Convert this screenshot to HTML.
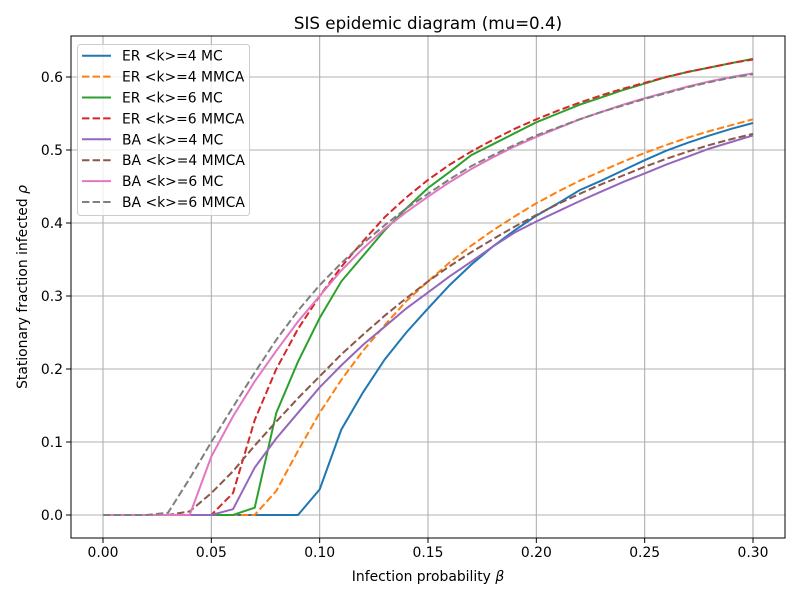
<!DOCTYPE html>
<html><head><meta charset="utf-8"><style>
body{margin:0;background:#fff}
svg text{font-family:"DejaVu Sans","Liberation Sans",sans-serif;fill:#000}
</style></head><body>
<svg id="chart" width="800" height="600" xmlns="http://www.w3.org/2000/svg">
<rect width="800" height="600" fill="#fff"/>
<g id="grid"></g>
<g id="series"></g>
<rect x="71" y="36" width="714" height="502" fill="none" stroke="#000" stroke-width="1"/>
<g id="ticks"></g>
<text x="428" y="29" font-size="16.7" text-anchor="middle">SIS epidemic diagram (mu=0.4)</text>
<text x="428" y="581" font-size="13.9" text-anchor="middle">Infection probability <tspan font-style="italic">β</tspan></text>
<text transform="translate(27,287) rotate(-90)" font-size="13.9" text-anchor="middle">Stationary fraction infected <tspan font-style="italic">ρ</tspan></text>
<g id="legend"></g>
</svg>
<script>
const betas=[0,0.01,0.02,0.03,0.04,0.05,0.06,0.07,0.08,0.09,0.10,0.11,0.12,0.13,0.14,0.15,0.16,0.17,0.18,0.19,0.20,0.21,0.22,0.23,0.24,0.25,0.26,0.27,0.28,0.29,0.30];
const er4mc=[0,0,0,0,0,0,0,0,0,0,0.035,0.117,0.168,0.213,0.25,0.283,0.315,0.343,0.368,0.39,0.41,0.427,0.445,0.458,0.472,0.486,0.499,0.51,0.52,0.529,0.537];
const er4mmca=[0,0,0,0,0,0,0,0,0.033,0.088,0.14,0.185,0.225,0.26,0.293,0.32,0.346,0.369,0.39,0.409,0.427,0.443,0.458,0.471,0.484,0.496,0.507,0.517,0.526,0.534,0.542];
const er6mc=[0,0,0,0,0,0,0,0.01,0.14,0.21,0.27,0.32,0.355,0.39,0.42,0.448,0.47,0.493,0.508,0.523,0.538,0.55,0.562,0.572,0.582,0.591,0.6,0.607,0.613,0.619,0.625];
const er6mmca=[0,0,0,0,0,0,0.03,0.13,0.2,0.255,0.3,0.34,0.375,0.408,0.435,0.459,0.48,0.498,0.514,0.529,0.542,0.554,0.565,0.575,0.584,0.592,0.6,0.607,0.613,0.619,0.624];
const ba4mc=[0,0,0,0,0,0,0.008,0.065,0.105,0.14,0.175,0.205,0.233,0.258,0.283,0.305,0.327,0.347,0.368,0.387,0.402,0.416,0.43,0.443,0.456,0.468,0.48,0.491,0.502,0.511,0.52];
const ba4mmca=[0,0,0,0,0.005,0.03,0.06,0.095,0.128,0.16,0.19,0.22,0.247,0.273,0.297,0.32,0.341,0.36,0.378,0.395,0.411,0.426,0.44,0.453,0.465,0.477,0.488,0.498,0.507,0.515,0.522];
const ba6mc=[0,0,0,0,0,0.08,0.135,0.183,0.225,0.265,0.3,0.335,0.365,0.392,0.415,0.436,0.456,0.474,0.49,0.505,0.518,0.53,0.542,0.552,0.562,0.571,0.579,0.587,0.594,0.6,0.605];
const ba6mmca=[0,0,0,0.003,0.05,0.1,0.148,0.195,0.24,0.28,0.315,0.345,0.372,0.397,0.42,0.44,0.46,0.478,0.493,0.507,0.52,0.531,0.542,0.552,0.561,0.57,0.578,0.586,0.593,0.599,0.604];
const xTicks=[0,0.05,0.10,0.15,0.20,0.25,0.30];
const xTickLabels=["0.00","0.05","0.10","0.15","0.20","0.25","0.30"];
const yTicks=[0,0.1,0.2,0.3,0.4,0.5,0.6];
const yTickLabels=["0.0","0.1","0.2","0.3","0.4","0.5","0.6"];
const seriesNames=["ER <k>=4 MC","ER <k>=4 MMCA","ER <k>=6 MC","ER <k>=6 MMCA","BA <k>=4 MC","BA <k>=4 MMCA","BA <k>=6 MC","BA <k>=6 MMCA"];
const seriesData=[er4mc,er4mmca,er6mc,er6mmca,ba4mc,ba4mmca,ba6mc,ba6mmca];
const colors=["#1f77b4","#ff7f0e","#2ca02c","#d62728","#9467bd","#8c564b","#e377c2","#7f7f7f"];
const dashed=[false,true,false,true,false,true,false,true];
const NS="http://www.w3.org/2000/svg";
const X=v=>103+v*(650/0.30);
const Y=v=>515-v*(438/0.6);
function mk(t,a,p){const e=document.createElementNS(NS,t);for(const k in a)e.setAttribute(k,a[k]);p.appendChild(e);return e;}
const grid=document.getElementById('grid'),ticks=document.getElementById('ticks'),ser=document.getElementById('series'),leg=document.getElementById('legend');
xTicks.forEach((v,i)=>{
 const g=mk('line',{x1:X(v),x2:X(v),y1:36,y2:538,stroke:'#b0b0b0','stroke-width':1.1},grid);
 
 
 mk('line',{x1:X(v),x2:X(v),y1:538,y2:543,stroke:'#000'},ticks);
 const t=mk('text',{x:X(v),y:557,'font-size':13.9,'text-anchor':'middle'},ticks);t.textContent=xTickLabels[i];
 
 
});
yTicks.forEach((v,i)=>{
 const g=mk('line',{x1:71,x2:785,y1:Y(v),y2:Y(v),stroke:'#b0b0b0','stroke-width':1.1},grid);
 
 
 mk('line',{x1:66,x2:71,y1:Y(v),y2:Y(v),stroke:'#000'},ticks);
 const t=mk('text',{x:63,y:Y(v)+5,'font-size':13.9,'text-anchor':'end'},ticks);t.textContent=yTickLabels[i];
 
 
});
seriesData.forEach((d,i)=>{
 const pts=d.map((v,j)=>X(betas[j]).toFixed(1)+','+Y(v).toFixed(1)).join(' ');
 const a={points:pts,fill:'none',stroke:colors[i],'stroke-width':2};
 if(dashed[i])a['stroke-dasharray']='7.4,3.2';
 const p=mk('polyline',a,ser);
 
 
});
const box=mk('rect',{x:77.5,y:44.5,width:172,height:171,rx:3,fill:'#fff','fill-opacity':0.8,stroke:'#ccc'},leg);


seriesNames.forEach((n,i)=>{
 const y=55.7+i*20.9;
 const a={x1:82,x2:111,y1:y,y2:y,stroke:colors[i],'stroke-width':2};
 if(dashed[i])a['stroke-dasharray']='7.4,3.2';
 mk('line',a,leg);
 const t=mk('text',{x:122,y:y+5,'font-size':13.9},leg);t.textContent=n;
 
 
});
</script>
</body></html>
